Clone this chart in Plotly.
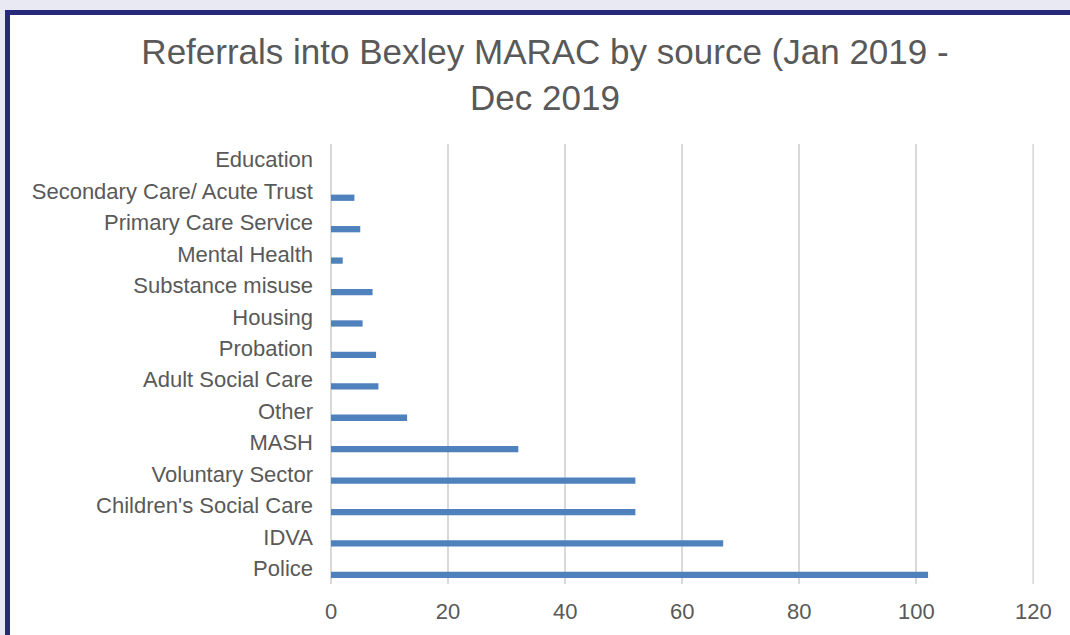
import plotly.graph_objects as go

categories = ["Police", "IDVA", "Children's Social Care", "Voluntary Sector", "MASH",
              "Other", "Adult Social Care", "Probation", "Housing", "Substance misuse",
              "Mental Health", "Primary Care Service", "Secondary Care/ Acute Trust", "Education"]
referrals = [102, 67, 52, 52, 32, 13, 8.1, 7.7, 5.4, 7.1, 2, 5, 4, 0]
x_ticks = [0, 20, 40, 60, 80, 100, 120]

W, H = 1070, 635
L, R, T, B = 331, 1034, 144, 584
FONT = "Liberation Sans, Arial, sans-serif"
GREY = "#595959"

fig = go.Figure(go.Bar(
    x=referrals, y=categories, orientation="h",
    marker=dict(color="#4f81bd", line=dict(width=0)),
    width=0.2, offset=-0.31,
))

def px_x(p):
    return (p - L) / (R - L)

def px_y(p):
    return (B - p) / (B - T)

shapes = [
    dict(type="line", xref="x", yref="paper", x0=x_ticks[-1], x1=x_ticks[-1], y0=0, y1=1,
         line=dict(color="#d9d9d9", width=2), layer="below"),
    dict(type="rect", xref="paper", yref="paper", x0=px_x(0), x1=px_x(W), y0=px_y(0), y1=px_y(10),
         fillcolor="#e9e9f4", line=dict(width=0), layer="above"),
    dict(type="rect", xref="paper", yref="paper", x0=px_x(0), x1=px_x(5), y0=px_y(0), y1=px_y(H),
         fillcolor="#e9e9f4", line=dict(width=0), layer="above"),
    dict(type="rect", xref="paper", yref="paper", x0=px_x(5), x1=px_x(W), y0=px_y(10), y1=px_y(15),
         fillcolor="#27297a", line=dict(width=0), layer="above"),
    dict(type="rect", xref="paper", yref="paper", x0=px_x(5), x1=px_x(10), y0=px_y(10), y1=px_y(H),
         fillcolor="#27297a", line=dict(width=0), layer="above"),
]

fig.update_layout(
    width=W, height=H,
    margin=dict(l=L, r=W - R, t=T, b=H - B, pad=0),
    paper_bgcolor="white", plot_bgcolor="white",
    showlegend=False,
    font=dict(family=FONT, color=GREY, size=22),
    title=dict(text="Referrals into Bexley MARAC by source (Jan 2019 -<br>Dec 2019",
               x=545 / W, xanchor="center", xref="container",
               y=1 - 64 / H, yanchor="middle", yref="container",
               font=dict(family=FONT, size=35, color=GREY)),
    xaxis=dict(range=[0, 120.1], tickvals=x_ticks, showgrid=True, gridcolor="#d9d9d9", gridwidth=2,
               zeroline=True, zerolinecolor="#d9d9d9", zerolinewidth=2, showline=False,
               ticks="", ticklabelstandoff=12, tickfont=dict(size=22, color=GREY), fixedrange=True),
    yaxis=dict(type="category", categoryorder="array", categoryarray=categories,
               showgrid=False, zeroline=False, showline=False, ticks="",
               ticklabelstandoff=17, tickfont=dict(size=22, color=GREY), fixedrange=True),
    shapes=shapes,
)

fig.write_html("out.html", config={"displayModeBar": False},
               post_script="document.body.style.margin='0';document.body.style.overflow='hidden';")
